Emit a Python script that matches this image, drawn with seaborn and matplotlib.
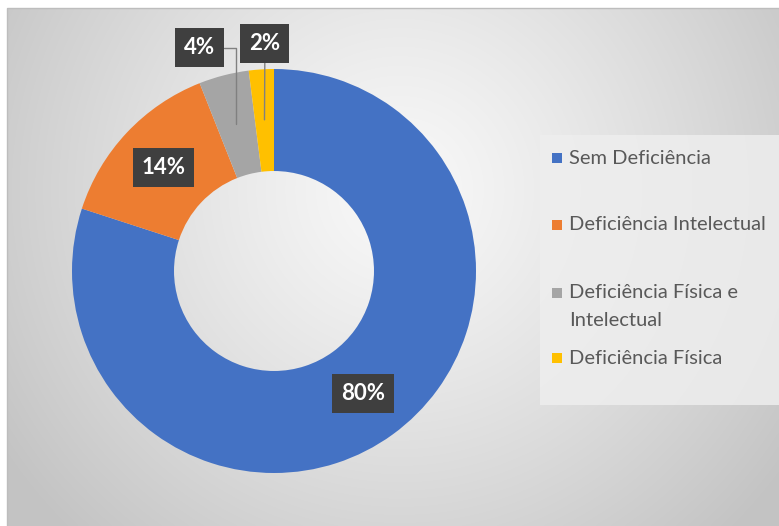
import numpy as np
import matplotlib
matplotlib.use("Agg")
import matplotlib.pyplot as plt
from matplotlib.patches import Rectangle
import seaborn as sns

# ---- data ----
categories = ["Sem Deficiência", "Deficiência Intelectual",
              "Deficiência Física e Intelectual", "Deficiência Física"]
legend_labels = ["Sem Deficiência", "Deficiência Intelectual",
                 "Deficiência Física e\nIntelectual", "Deficiência Física"]
values = [80, 14, 4, 2]
pct_labels = ["80%", "14%", "4%", "2%"]
colors = ["#4472C4", "#ED7D31", "#A5A5A5", "#FFC000"]

sns.set_theme(style="white")
plt.rcParams['font.family'] = ['Lato', 'DejaVu Sans']

W, H = 779, 526
fig = plt.figure(figsize=(W / 100, H / 100), dpi=100)
fig.patch.set_facecolor("white")

def fx(px):
    return px / W

def fy(py):
    return 1 - py / H

# ---- background gradient (chart area) ----
bg = fig.add_axes([fx(7), 0, 1 - fx(7), fy(8)])
gx, gy = np.meshgrid(np.linspace(7, W, 400), np.linspace(8, H, 300))
d = np.sqrt((gx - 400) ** 2 + (gy - 190) ** 2)
t = np.clip(d / 480, 0, 1) ** 1.2
light, dark = 0.975, 0.765
img = light + (dark - light) * t
bg.imshow(np.dstack([img, img, img]), aspect="auto", extent=[0, 1, 0, 1],
          interpolation="bilinear")
bg.set_xlim(0, 1); bg.set_ylim(0, 1)
bg.set_axis_off()
fig.add_artist(Rectangle((fx(7), -0.01), 1.0, fy(8) + 0.01, transform=fig.transFigure,
                         fill=False, edgecolor="#bdbdbd", linewidth=1.0))

# ---- donut ----
cx, cy, R = 274, 271, 202
ax = fig.add_axes([fx(cx - R), fy(cy + R), 2 * R / W, 2 * R / H])
wedges, _ = ax.pie(values, colors=colors, startangle=90, counterclock=False,
                   radius=1.0, wedgeprops=dict(width=0.505, linewidth=0))
ax.set_xlim(-1, 1); ax.set_ylim(-1, 1)
ax.set_aspect("equal")
ax.set_axis_off()

box = dict(boxstyle="square,pad=0.4", facecolor="#3f3f3f", edgecolor="none")
txt_kw = dict(color="white", fontsize=16, fontweight="bold",
              ha="center", va="center")

# label placement: (x, y) in pie units; None means on the ring itself
label_pos = [None, None, (-0.371, 1.105), (-0.045, 1.125)]
conn = [None, None, "angle,angleA=0,angleB=90,rad=0", "arc3"]

total = sum(values)
cum = 0
for i, v in enumerate(values):
    mid = 90 - 360 * (cum + v / 2) / total
    cum += v
    px_ = 0.75 * np.cos(np.deg2rad(mid))
    py_ = 0.75 * np.sin(np.deg2rad(mid))
    text = pct_labels[i]
    if label_pos[i] is None:
        ax.text(px_, py_, text, bbox=box, **txt_kw)
    else:
        ax.annotate(text, xy=(px_, py_), xytext=label_pos[i], bbox=box,
                    arrowprops=dict(arrowstyle="-", color="#808080", lw=1.0,
                                    connectionstyle=conn[i],
                                    shrinkA=0, shrinkB=0),
                    annotation_clip=False, **txt_kw)

# ---- legend ----
fig.add_artist(Rectangle((fx(540), fy(405)), fx(779) - fx(540), fy(135) - fy(405),
                         transform=fig.transFigure, facecolor="#eeeeee",
                         edgecolor="none", alpha=0.85))
legend_y = [158, 225, 293, 358]
line_step = 27
for lab, col, ly in zip(legend_labels, colors, legend_y):
    fig.add_artist(Rectangle((fx(552), fy(ly + 5)), fx(10), 10 / H,
                             transform=fig.transFigure, facecolor=col,
                             edgecolor="none"))
    for k, line in enumerate(lab.split("\n")):
        fig.text(fx(569), fy(ly + k * line_step), line, color="#595959",
                 fontsize=14.5, ha="left", va="center")

fig.savefig("out.png", dpi=100)
